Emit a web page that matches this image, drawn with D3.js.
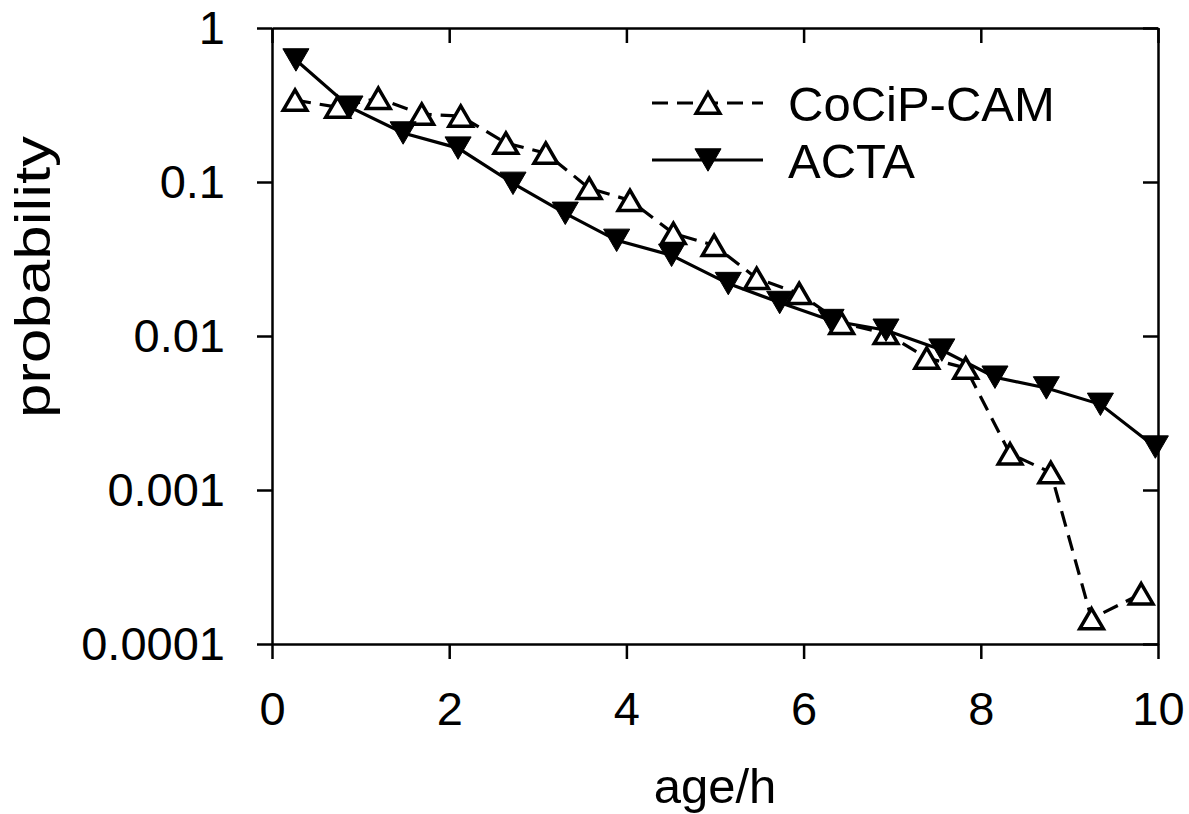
<!DOCTYPE html>
<html>
<head>
<meta charset="utf-8">
<script src="https://cdn.jsdelivr.net/npm/d3@7"></script>
<style>
  body { margin: 0; background: #fff; }
  text { font-family: "Liberation Sans", Arial, sans-serif; fill: #000; }
</style>
</head>
<body>
<script>
const WIDTH = 1189
const HEIGHT = 814

// data
const ageCocip = [0.26, 0.74, 1.2, 1.69, 2.13, 2.64, 3.09, 3.58, 4.04, 4.53, 4.99, 5.47, 5.95, 6.43, 6.93, 7.39, 7.83, 8.33, 8.79, 9.25, 9.81]
const probCocip = [0.34, 0.306, 0.35, 0.276, 0.268, 0.179, 0.154, 0.091, 0.076, 0.0464, 0.0388, 0.0237, 0.0189, 0.0121, 0.0104, 0.0072, 0.0062, 0.00172, 0.0013, 0.000146, 0.000212]
const ageActa = [0.27, 0.88, 1.48, 2.1, 2.72, 3.31, 3.89, 4.51, 5.15, 5.73, 6.31, 6.93, 7.56, 8.16, 8.74, 9.35, 9.97]
const probActa = [0.62, 0.306, 0.208, 0.166, 0.098, 0.0626, 0.0418, 0.0334, 0.0219, 0.0165, 0.0126, 0.0109, 0.0081, 0.0054, 0.0046, 0.0036, 0.0019]

const xTicks = [0, 2, 4, 6, 8, 10]
const yTicks = [1, 0.1, 0.01, 0.001, 0.0001]
const yTickLabels = ['1', '0.1', '0.01', '0.001', '0.0001']
const seriesNames = ['CoCiP-CAM', 'ACTA']

const LEFT = 272
const RIGHT = 1158
const TOP = 28
const BOTTOM = 644
const TICK = 15
const FONT = 47

const svg = d3.select('body')
    .append('svg')
    .attr('width', WIDTH)
    .attr('height', HEIGHT)

const x = d3.scaleLinear().domain([0, 10]).range([LEFT, RIGHT])
const y = d3.scaleLog().domain([0.0001, 1]).range([BOTTOM, TOP])

// triangle centred on its box
const triUp = {
    draw(ctx, size) {
        const w = Math.sqrt(size), h = w * 0.86
        ctx.moveTo(0, -h / 2)
        ctx.lineTo(w / 2, h / 2)
        ctx.lineTo(-w / 2, h / 2)
        ctx.closePath()
    }
}
const triDown = {
    draw(ctx, size) {
        const w = Math.sqrt(size), h = w * 0.86
        ctx.moveTo(0, h / 2)
        ctx.lineTo(w / 2, -h / 2)
        ctx.lineTo(-w / 2, -h / 2)
        ctx.closePath()
    }
}

function styleAxis(g) {
    g.selectAll('path').attr('stroke', '#000').attr('stroke-width', 2.5)
    g.selectAll('line').attr('stroke', '#000').attr('stroke-width', 2.5)
    g.selectAll('text').attr('font-size', FONT).attr('font-family', '"Liberation Sans", Arial, sans-serif').attr('fill', '#000')
}

// bottom
svg.append('g')
    .attr('transform', `translate(0, ${BOTTOM})`)
    .call(d3.axisBottom(x).tickValues(xTicks).tickSize(TICK).tickSizeOuter(0).tickPadding(33).tickFormat(d3.format('d')))
    .call(styleAxis)

// top, ticks pointing in
svg.append('g')
    .attr('transform', `translate(0, ${TOP})`)
    .call(d3.axisTop(x).tickValues(xTicks).tickSize(-TICK).tickSizeOuter(0).tickFormat(''))
    .call(styleAxis)

// left
svg.append('g')
    .attr('transform', `translate(${LEFT}, 0)`)
    .call(d3.axisLeft(y).tickValues(yTicks).tickSize(TICK).tickSizeOuter(0).tickPadding(32)
        .tickFormat((d, i) => yTickLabels[i]))
    .call(styleAxis)
    .call(g => g.selectAll('text').attr('dy', '0.33em'))

// right, ticks pointing in
svg.append('g')
    .attr('transform', `translate(${RIGHT}, 0)`)
    .call(d3.axisRight(y).tickValues(yTicks).tickSize(-TICK).tickSizeOuter(0).tickFormat(''))
    .call(styleAxis)

// axis titles
svg.append('text')
    .text('age/h')
    .attr('x', 715)
    .attr('y', 803)
    .attr('text-anchor', 'middle')
    .attr('font-size', FONT + 2)

svg.append('text')
    .text('probability')
    .attr('transform', 'translate(50, 277) rotate(-90)')
    .attr('text-anchor', 'middle')
    .attr('font-size', 50)
    .attr('textLength', 282)
    .attr('lengthAdjust', 'spacingAndGlyphs')

const line = d3.line()
    .x(d => x(d[0]))
    .y(d => y(d[1]))

const cocip = ageCocip.map((a, i) => [a, probCocip[i]])
const acta = ageActa.map((a, i) => [a, probActa[i]])

svg.append('path')
    .datum(cocip)
    .attr('d', line)
    .attr('fill', 'none')
    .attr('stroke', '#000')
    .attr('stroke-width', 3.2)
    .attr('stroke-dasharray', '16,9')

svg.append('path')
    .datum(acta)
    .attr('d', line)
    .attr('fill', 'none')
    .attr('stroke', '#000')
    .attr('stroke-width', 3.2)

const upSym = d3.symbol().type(triUp).size(560)
const downSym = d3.symbol().type(triDown).size(680)

svg.append('g')
    .selectAll('path')
    .data(cocip)
    .enter()
    .append('path')
    .attr('d', upSym)
    .attr('transform', d => `translate(${x(d[0])}, ${y(d[1])})`)
    .attr('fill', '#fff')
    .attr('stroke', '#000')
    .attr('stroke-width', 3.5)

svg.append('g')
    .selectAll('path')
    .data(acta)
    .enter()
    .append('path')
    .attr('d', downSym)
    .attr('transform', d => `translate(${x(d[0])}, ${y(d[1])})`)
    .attr('fill', '#000')
    .attr('stroke', '#000')
    .attr('stroke-width', 1)

// legend
const legend = svg.append('g')
const rows = [103, 160]

legend.append('line')
    .attr('x1', 652).attr('x2', 763)
    .attr('y1', rows[0]).attr('y2', rows[0])
    .attr('stroke', '#000').attr('stroke-width', 3.2)
    .attr('stroke-dasharray', '16,9')
legend.append('path')
    .attr('d', upSym)
    .attr('transform', `translate(708, ${rows[0]})`)
    .attr('fill', '#fff').attr('stroke', '#000').attr('stroke-width', 3.5)

legend.append('line')
    .attr('x1', 652).attr('x2', 763)
    .attr('y1', rows[1]).attr('y2', rows[1])
    .attr('stroke', '#000').attr('stroke-width', 3.2)
legend.append('path')
    .attr('d', downSym)
    .attr('transform', `translate(708, ${rows[1]})`)
    .attr('fill', '#000').attr('stroke', '#000').attr('stroke-width', 1)

legend.selectAll('text')
    .data(seriesNames)
    .enter()
    .append('text')
    .text(d => d)
    .attr('x', 788)
    .attr('y', (d, i) => rows[i] + 18)
    .attr('font-size', FONT + 2)
</script>
</body>
</html>
